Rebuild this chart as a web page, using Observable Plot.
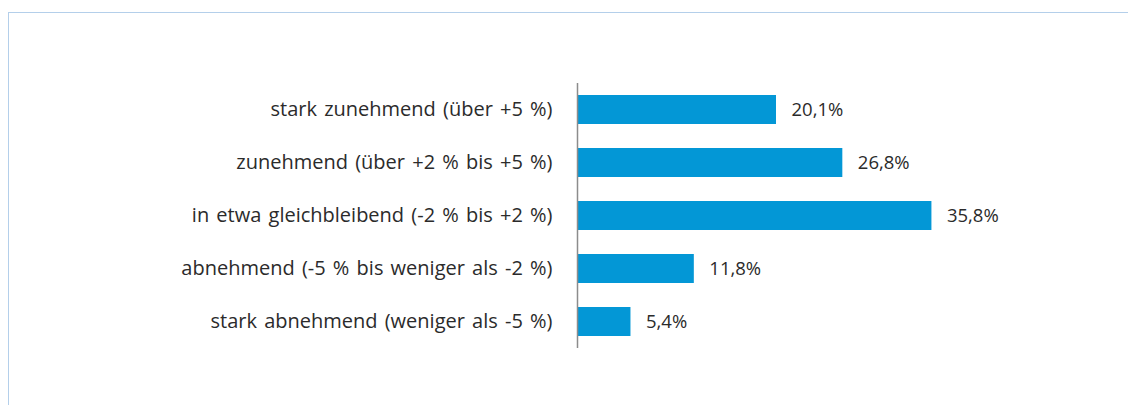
<!DOCTYPE html>
<html>
<head>
<meta charset="utf-8">
<script src="https://cdn.jsdelivr.net/npm/d3@7"></script>
<script src="https://cdn.jsdelivr.net/npm/@observablehq/plot@0.6"></script>
<style>
  html, body { margin: 0; padding: 0; background: #fff; width: 1128px; height: 405px; overflow: hidden; }
  #frame { position: absolute; left: 8px; top: 12px; width: 1200px; height: 500px; border-left: 1px solid #b4cfea; border-top: 1px solid #b4cfea; }
  #chart { position: absolute; left: 0; top: 0; }
  #chart svg [aria-label="y-axis tick label"] text { word-spacing: 2px; }
</style>
</head>
<body>
<div id="frame"></div>
<div id="chart"></div>
<script>
const categories = [
  "stark zunehmend (über +5 %)",
  "zunehmend (über +2 % bis +5 %)",
  "in etwa gleichbleibend (-2 % bis +2 %)",
  "abnehmend (-5 % bis weniger als -2 %)",
  "stark abnehmend (weniger als -5 %)"
];
const values = [20.1, 26.8, 35.8, 11.8, 5.4];

const data = categories.map((c, i) => ({category: c, value: values[i]}));
const fmt = v => v.toFixed(1).replace(".", ",") + "%";

const chart = Plot.plot({
  width: 1128,
  height: 405,
  marginLeft: 577,
  marginRight: 155,
  marginTop: 83,
  marginBottom: 57,
  style: {fontFamily: "'Open Sans', sans-serif", fontSize: "16px", color: "#2b2b2b", background: "transparent"},
  x: {domain: [0, 40], axis: null},
  y: {domain: categories, paddingInner: 0.445, paddingOuter: 0.2225, label: null},
  marks: [
    Plot.barX(data, {x: "value", y: "category", fill: "#0397d6"}),
    Plot.ruleX([0], {stroke: "#8c8c8c", strokeWidth: 1.5}),
    Plot.axisY({tickSize: 0, tickPadding: 25, fontSize: 20, fill: "#2b2b2b", label: null}),
    Plot.text(data, {x: "value", y: "category", text: d => fmt(d.value), dx: 15, textAnchor: "start", fontSize: 18.5, fill: "#2b2b2b"})
  ]
});
document.getElementById("chart").appendChild(chart);
</script>
</body>
</html>
